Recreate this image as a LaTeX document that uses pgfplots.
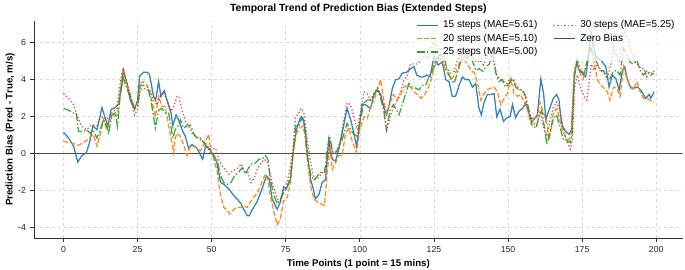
\documentclass[border=0pt]{standalone}
\usepackage{fontspec}
\setmainfont{Liberation Sans}
\usepackage{pgfplots}
\pgfplotsset{compat=1.18}
\definecolor{cA}{HTML}{1F77B4}
\definecolor{cB}{HTML}{FF7F0E}
\definecolor{cC}{HTML}{2CA02C}
\definecolor{cD}{HTML}{D62728}
\definecolor{spine}{HTML}{333333}
\begin{document}
\begin{tikzpicture}
\path[use as bounding box] (0,0) rectangle (685pt,270pt);
\begin{axis}[
  at={(34pt,31.7pt)}, anchor=south west,
  scale only axis, width=648.7pt, height=217.6pt,
  xmin=-9.95, xmax=208.95, ymin=-4.57, ymax=7.19,
  xtick={0,25,...,200}, ytick={-4,-2,...,6},
  axis x line*=bottom, axis y line*=left,
  axis line style={-, draw=spine, line width=1pt},
  tick align=outside, major tick length=3.5pt,
  tick style={draw=spine, line width=0.8pt},
  /pgf/number format/assume math mode=true,
  ticklabel style={font=\fontsize{8.7}{10}\selectfont, text=black!85},
  xticklabel style={yshift=-1pt},
  yticklabel style={xshift=-1pt},
  grid=major,
  major grid style={dashed, draw=black!15, line width=0.6pt},
  title={Temporal Trend of Prediction Bias (Extended Steps)},
  title style={font=\fontsize{10.4}{12}\selectfont\bfseries, at={(axis description cs:0.5,1)}, anchor=south, yshift=-2pt},
  xlabel={Time Points (1 point = 15 mins)},
  xlabel style={font=\fontsize{9.7}{11}\selectfont\bfseries, at={(axis description cs:0.5,0)}, anchor=center, yshift=-25.7pt},
  ylabel={Prediction Bias (Pred - True, m/s)},
  ylabel style={font=\fontsize{9.7}{11}\selectfont\bfseries, at={(axis description cs:0,0.5)}, anchor=center, yshift=24pt},
  legend columns=2,
  legend cell align=left,
  legend image code/.code={\draw[#1] (0pt,0pt) -- (21pt,0pt);},
  legend style={at={(axis description cs:0.584,1.02)}, anchor=north west, draw=none, fill=white, fill opacity=0.7, text opacity=1,
    font=\fontsize{10}{12}\selectfont, row sep=0pt,
    nodes={text height=7.3pt, text depth=2.5pt, inner sep=1.8pt},
    /tikz/every odd column/.append style={column sep=3pt},
    /tikz/every even column/.append style={column sep=14pt}},
]
\addplot[forget plot, black!70, line width=0.9pt] coordinates {(-9.95,0) (208.95,0)};
% 15 steps
\addplot[forget plot, cA, line width=1.3pt, opacity=0.9] coordinates {
(0,1.16) (1.7,0.86) (3.4,0.41) (4.8,-0.45) (6.2,-0.1) (7.7,0.05) (8.8,0.6) (9.9,1.5) (11.3,1.3) (13,2.5) (13.9,2.0) (15,1.5) (16.1,2.4) (17.5,2.5) (18.6,2.7) (19.7,3.7) (20.3,4.5) (21.4,3.8) (22.5,2.9) (24,2.4) (25,2.9) (25.7,4.2) (27,4.4) (28.2,4.4) (29,4.3) (30.4,3.1) (31.1,2.9) (32.1,3.9) (32.9,3.1) (34,3.4) (34.9,2.9) (36.3,2.2) (36.9,1.5) (38,2.1) (38.9,1.8) (40,1.3) (41.1,0.95) (42.2,0.3) (43.4,0.5) (45,0.3) (47,-0.3) (47.9,0.4) (49,0.3) (50.7,-0.1) (51.8,-0.5) (53,-1.55) (54.1,-1.65) (55.8,-1.9) (57.4,-2.25) (58.6,-2.45) (59.9,-2.7) (60.8,-3.0) (62,-3.35) (62.7,-3.35) (63.6,-3.05) (65.3,-2.6) (67,-1.9) (68.5,-1.2) (69.5,-1.4) (70.4,-2.45) (72.1,-3.0) (73.2,-2.6) (74.3,-1.8) (75.2,-1.9) (76.6,-1.4) (77.5,0.05) (78.6,1.3) (79.7,1.85) (80.3,2.0) (81,1.85) (81.7,1.1) (82.5,-0.3) (83.4,-1.4) (84.3,-1.9) (85,-2.45) (86.2,-2.2) (87.3,-1.55) (88.4,-1.4) (89.5,0.75) (90.7,-0.3) (91.8,-0.4) (92.9,0.25) (94,1.1) (95.7,2.45) (96.9,1.85) (98,1.1) (98.9,0.4) (99.7,1.3) (100.8,2.7) (101.9,2.65) (103.6,2.45) (104.8,3.2) (105.9,3.45) (107,3.2) (108.1,2.55) (109,2.1) (109.8,2.55) (111,3.55) (112.1,4.0) (113.2,4.05) (114.3,4.35) (115.8,4.4) (117.1,4.6) (118.3,4.7) (119.2,4.25) (120.5,4.15) (121.6,4.15) (122.5,4.25) (123.7,4.15) (125,5.25) (126.4,4.8) (127.8,4.95) (129,4.0) (130.1,3.9) (131.2,3.1) (132.3,3.1) (133.5,3.7) (134.6,4.15) (135.7,4.0) (136.9,4.0) (138,3.6) (139.1,3.8) (140.2,2.45) (141,2.1) (141.9,2.75) (143,3.2) (144.2,3.2) (145.3,3.25) (146.2,2.0) (147.3,2.4) (148.5,1.75) (149.6,1.95) (150.7,2.0) (151.5,2.65) (152.6,1.95) (153.7,2.3) (154.9,2.45) (156,2.75) (156.8,2.3) (157.7,1.95) (158.8,1.85) (159.9,2.1) (161.1,4.05) (162,3.25) (162.8,1.85) (163.5,2.2) (164.4,2.6) (165.3,3.0) (166.4,3.2) (167.2,2.9) (167.8,2.0) (168.3,1.5) (169.5,1.2) (170.6,1.05) (171.4,1.3) (172.3,4.05) (173.2,4.95) (174,4.5) (175.1,4.35) (176.2,4.15) (177,5.05) (177.7,6.1) (178.1,6.55) (178.8,5.85) (179.6,5.25) (180.7,5.15) (181.9,4.95) (183,4.7) (184.1,3.6) (185.2,4.25) (186.4,4.05) (187.5,3.45) (188.6,4.5) (189.4,4.7) (190.3,4.0) (191.4,3.55) (192.6,3.55) (193.7,3.6) (194.8,3.45) (195.7,3.2) (196.5,3.0) (197.6,3.2) (198.2,3.0) (199.3,3.35)
};
% 20 steps
\addplot[forget plot, cB, line width=1.3pt, opacity=0.9, dash pattern=on 5pt off 2.2pt] coordinates {
(0,0.68) (1.7,0.6) (3.4,0.55) (4.8,0.45) (6.2,0.55) (7.9,0.73) (9,0.9) (10.1,1.05) (11.3,0.4) (12.4,1.05) (13.5,1.85) (14.6,1.3) (15.8,1.85) (16.9,2.1) (18.2,2.1) (19.1,3.45) (20,4.5) (21.2,3.8) (22.5,3.2) (23.9,2.45) (25,2.65) (25.9,3.8) (27,3.9) (28.2,3.7) (29.3,3.25) (30.4,2.45) (31,2.0) (32.1,3.1) (33.2,2.55) (34.3,2.55) (35.5,1.5) (36.6,0.6) (37.2,0.05) (37.7,0.85) (38.3,1.1) (39.4,0.95) (40.5,0.5) (41.7,-0.1) (42.8,0.4) (43.9,0.4) (45,0.3) (46.2,0.15) (47.3,0.5) (48.4,0.85) (49,1.05) (49.6,0.3) (50.7,-0.3) (51.8,-0.9) (53,-2.25) (54.1,-2.9) (55.2,-3.05) (56.1,-3.25) (57.2,-3.05) (58.3,-2.9) (59.7,-2.9) (60.8,-2.8) (62,-2.9) (63.1,-2.6) (64.2,-2.35) (65.5,-2.1) (66.7,-1.65) (68.1,-1.1) (68.9,-1.4) (69.8,-2.25) (71,-3.15) (72.1,-3.85) (73.2,-3.5) (74.3,-2.55) (75.5,-2.35) (76.6,-1.55) (77.5,0.05) (78.6,1.1) (79.7,1.4) (80.9,1.5) (81.7,0.75) (82.4,-0.5) (83.4,-1.75) (84.5,-2.45) (85.6,-2.6) (86.7,-2.7) (88.1,-2.8) (89,-1.0) (89.9,0.4) (90.7,-0.85) (91.8,-0.5) (92.9,-0.1) (94,-0.1) (95.2,1.1) (96.3,1.4) (97.4,0.7) (98.9,0.05) (100,1.3) (101.4,2.0) (102.5,1.9) (103.6,2.55) (104.8,2.9) (105.9,3.45) (107,4.0) (108.1,2.9) (109,2.2) (110.2,2.75) (111.3,3.2) (112.6,2.9) (113.8,3.2) (114.9,3.6) (116,3.7) (117.1,3.6) (118.3,3.35) (119.4,3.2) (120.7,3.0) (121.9,3.2) (123,3.55) (124.1,4.0) (125,4.65) (126.2,5.0) (127.3,5.2) (128.4,4.7) (129.5,4.35) (130.9,4.05) (132,4.25) (133.1,4.7) (134.3,5.25) (135.4,5.05) (136.5,4.8) (137.6,4.5) (138.8,4.35) (139.9,3.7) (140.8,2.9) (141.9,3.25) (143,3.45) (144.2,3.55) (145.3,3.6) (146.4,3.35) (147.6,2.65) (148.7,3.0) (149.8,3.25) (150.9,4.05) (152,3.25) (153.2,3.1) (154.3,3.2) (155.4,2.8) (156.6,2.4) (157.7,1.65) (158.8,1.85) (159.9,2.0) (160.8,2.8) (162,2.2) (163.1,1.65) (163.9,0.75) (164.6,1.4) (165.3,2.2) (166.4,2.45) (167.2,2.0) (168.3,1.3) (169.5,0.85) (170.6,0.75) (171.4,1.1) (172.3,4.35) (173.2,5.05) (174.3,4.35) (175.4,4.05) (176.2,4.7) (177.4,5.6) (178.1,5.7) (179,4.95) (180.2,4.0) (181.3,3.7) (182.4,3.55) (183.5,3.35) (184.4,2.9) (185.6,3.6) (186.7,3.55) (187.8,3.1) (189,4.7) (190.1,4.05) (191.2,3.7) (192.3,3.45) (193.5,3.9) (194.6,3.35) (195.7,3.0) (196.8,3.0) (198,2.9) (199.1,2.75)
};
% 25 steps
\addplot[forget plot, cC, line width=1.3pt, opacity=0.9, dash pattern=on 8pt off 2.2pt on 1.5pt off 2.2pt] coordinates {
(0,2.45) (1.7,2.35) (3.4,2.2) (4.3,2.2) (5.1,1.2) (6.2,1.2) (7.9,1.3) (9,1.1) (9.9,1.3) (11.3,0.85) (12.4,1.3) (13.5,1.85) (14.6,1.5) (15.2,1.05) (16.3,2.1) (17.5,2.2) (18.2,1.5) (19.1,3.1) (20,4.15) (21.2,3.6) (22.5,3.1) (24,2.45) (25,2.55) (25.9,3.7) (27,3.7) (28.4,3.6) (29.5,2.9) (31,1.4) (32.1,2.35) (33.2,2.45) (34.3,2.2) (35.5,2.2) (36.9,0.85) (37.7,1.3) (38.9,1.55) (39.4,1.85) (40.5,1.4) (41.7,1.5) (42.8,1.55) (43.9,1.1) (45,0.85) (46.2,0.85) (47.3,0.6) (48.4,0.4) (49.6,0.05) (50.7,-0.1) (51.8,-0.3) (53,-1.2) (54.1,-1.55) (55.4,-1.65) (56.5,-1.55) (57.7,-1.2) (59.1,-1.0) (60.3,-0.75) (61.4,-1.1) (62.5,-0.75) (63.6,-0.55) (64.8,-0.5) (65.9,-0.3) (67,-0.3) (68.1,-0.1) (69,-0.3) (69.8,-1.4) (71,-2.25) (72.1,-2.7) (73.2,-2.45) (74.3,-2.1) (75.5,-1.8) (76.6,-1.2) (77.5,0.05) (78.3,1.5) (79.4,1.5) (80.5,1.95) (81.3,1.5) (82.2,-0.1) (83.4,-1.1) (84.5,-1.45) (85.6,-1.2) (86.7,-1.0) (88.1,-1.0) (89,0.25) (89.9,0.95) (90.7,0.15) (91.8,0.05) (92.9,0.3) (94,0.75) (95.7,1.65) (96.9,1.3) (98,1.05) (99.1,0.95) (100.2,1.85) (101.4,2.75) (102.5,2.9) (103.6,2.9) (104.8,3.25) (105.9,3.45) (107,3.0) (108.1,2.35) (109,1.3) (110.2,2.35) (111.3,2.65) (112.1,2.45) (113.2,2.1) (114.3,2.65) (115.5,3.25) (116.6,3.8) (117.7,3.6) (118.8,3.55) (120,3.45) (121.1,3.7) (122.2,3.7) (123.3,4.15) (124.5,4.5) (125.6,5.05) (126.7,5.3) (127.3,5.4) (128.4,5.25) (129.5,4.5) (130.7,4.05) (131.8,3.8) (132.9,4.35) (134,4.95) (135.2,5.25) (136.3,5.15) (137.2,5.4) (138.1,4.95) (139.2,4.5) (140.3,4.6) (141.5,4.45) (142.6,4.7) (143.7,4.85) (144.7,5.4) (145.9,4.35) (147,3.9) (148.1,4.0) (149.2,3.6) (150.4,3.8) (151.5,4.05) (152.6,3.6) (153.7,3.45) (154.9,3.45) (156,3.1) (157.1,2.35) (158.2,1.5) (159.4,1.4) (160.5,2.0) (161.4,2.35) (162.2,1.5) (163.1,0.5) (164.2,1.2) (165.3,1.9) (166.4,2.1) (167.6,1.4) (168.7,0.75) (169.8,0.7) (171,0.6) (171.7,1.1) (172.5,4.5) (173.4,5.05) (174.5,4.5) (175.7,4.35) (176.8,5.05) (177.9,5.7) (178.8,5.4) (179.9,4.95) (181.1,4.5) (182.2,4.5) (183.3,4.15) (184.4,4.05) (185.6,4.45) (186.7,4.5) (187.8,4.25) (189,5.7) (190.1,5.4) (191.2,4.95) (192.3,4.85) (193.5,5.05) (194.6,4.5) (195.7,4.25) (197,4.5) (198.2,4.25) (199.3,4.35)
};
% 30 steps
\addplot[forget plot, cD, line width=1.3pt, opacity=0.8, dash pattern=on 1.3pt off 2.2pt] coordinates {
(0,3.25) (1.7,3.0) (3.4,2.65) (4.5,2.1) (5.6,1.65) (6.8,1.4) (7.9,1.3) (9,1.5) (10.1,1.55) (11.3,1.5) (12.4,1.95) (13.5,2.0) (14.6,1.85) (15.8,2.1) (16.9,2.3) (18,2.4) (19.1,3.8) (20,4.5) (21.2,4.0) (22.5,3.2) (24,2.1) (25,2.4) (25.9,3.45) (27,3.55) (28.2,3.45) (29.3,3.45) (30.4,2.9) (31.5,2.65) (32.7,3.1) (33.8,3.35) (34.9,2.9) (36.3,2.3) (37.2,2.55) (38.3,3.1) (38.9,3.1) (40,2.35) (41.1,1.75) (42.2,1.5) (43.4,1.1) (44.5,0.95) (45.6,0.85) (46.7,0.7) (47.9,0.6) (49,0.3) (50.1,0.25) (51.3,0.3) (52.4,-0.3) (53.5,-0.65) (54.6,-0.85) (55.8,-1.1) (56.9,-0.95) (58,-0.85) (59.1,-0.75) (60,-0.55) (61,-0.95) (62.2,-1.0) (63.3,-1.55) (64.4,-1.3) (65.6,-0.75) (66.7,-0.5) (67.8,-0.3) (68.9,-0.5) (69.8,-1.1) (71,-1.9) (72.1,-2.45) (73.2,-2.55) (74.3,-2.0) (75.5,-1.55) (76.6,-0.65) (77.5,0.4) (78.3,1.95) (79.4,2.2) (80.2,2.45) (81.1,2.2) (82,1.1) (83.1,-0.2) (84.3,-1.2) (85.4,-1.4) (86.5,-1.2) (87.6,-1.0) (88.8,-0.65) (89.9,0.7) (91,0.05) (92.1,0.15) (93.3,0.6) (94.4,1.65) (95.7,2.75) (96.9,2.65) (98,2.0) (99.1,1.3) (100.2,2.2) (101.4,3.35) (102.5,3.25) (103.6,2.9) (104.8,3.25) (105.9,3.55) (107,3.25) (108.1,2.35) (109,1.2) (110.2,2.0) (111.3,2.45) (112.6,2.9) (113.8,3.35) (114.9,4.0) (116,4.25) (117.1,4.85) (118.3,4.85) (119.4,4.85) (120.5,5.05) (121.6,5.3) (122.8,5.15) (123.9,5.6) (125,6.05) (126.2,5.75) (127.3,5.4) (128.4,4.8) (129.5,4.6) (130.7,4.35) (131.8,4.45) (132.9,5.05) (134,5.4) (135.2,5.3) (136.3,5.4) (137.2,5.75) (138.3,5.15) (139.4,4.95) (140.6,5.05) (141.7,4.8) (142.8,5.25) (143.9,5.7) (145.1,5.15) (146.2,4.25) (147.3,4.05) (148.5,3.9) (149.6,3.8) (150.7,4.05) (151.8,4.0) (152.9,3.7) (154.1,3.45) (155.2,3.35) (156.3,2.75) (157.5,1.85) (158.6,1.65) (159.7,1.5) (160.8,2.3) (161.9,1.5) (163.1,0.95) (164.2,1.85) (165.3,2.5) (166.4,2.8) (167.6,2.3) (168.7,1.3) (169.8,0.7) (171,0.25) (171.7,0.75) (172.5,3.6) (173.4,4.25) (174.5,3.55) (175.7,3.1) (176.6,2.9) (177.4,3.9) (178.1,4.85) (179,4.5) (180.2,4.85) (181.3,4.5) (182.4,4.35) (183.5,4.05) (184.7,4.85) (185.6,5.75) (186.4,5.4) (187.5,5.05) (188.6,6.1) (189.4,6.55) (190.3,6.3) (191.4,5.6) (192.6,5.05) (193.7,4.85) (194.8,4.6) (195.9,4.6) (196.8,4.15) (197.6,4.4) (198.7,4.35) (199.4,4.5)
};
\addlegendimage{cA, line width=1.3pt}
\addlegendentry{15 steps (MAE=5.61)}
\addlegendimage{cD, line width=1.3pt, opacity=0.8, dash pattern=on 1.3pt off 2.2pt}
\addlegendentry{30 steps (MAE=5.25)}
\addlegendimage{cB, line width=1.3pt, dash pattern=on 5pt off 2.2pt}
\addlegendentry{20 steps (MAE=5.10)}
\addlegendimage{black!70, line width=0.9pt}
\addlegendentry{Zero Bias}
\addlegendimage{cC, line width=1.3pt, dash pattern=on 8pt off 2.2pt on 1.5pt off 2.2pt}
\addlegendentry{25 steps (MAE=5.00)}
\end{axis}
\end{tikzpicture}
\end{document}
